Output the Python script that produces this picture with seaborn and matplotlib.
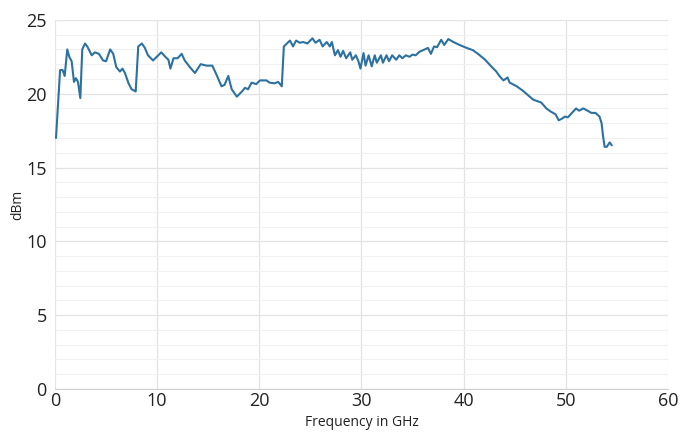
import numpy as np
import pandas as pd
import seaborn as sns
import matplotlib.pyplot as plt
from matplotlib.ticker import MultipleLocator

# values
freq_ghz = [
    0.1, 0.5, 0.75, 0.95, 1.2, 1.4, 1.63, 1.86, 2.05, 2.25, 2.48, 2.67, 2.94, 3.16,
    3.6, 3.9, 4.3, 4.7, 5.0, 5.4, 5.7, 6.0, 6.36, 6.6, 6.85, 7.2, 7.5, 7.9, 8.15,
    8.5, 8.8, 9.1, 9.6, 10.1, 10.4, 10.8, 11.1, 11.3, 11.6, 12.0, 12.4, 12.7, 13.2,
    13.7, 14.26, 14.84, 15.4, 15.8, 16.3, 16.6, 16.96, 17.3, 17.8, 18.3, 18.6, 18.9,
    19.25, 19.7, 20.06, 20.7, 21.0, 21.5, 21.85, 22.2, 22.4, 22.7, 23.0, 23.3, 23.6,
    23.95, 24.3, 24.7, 25.2, 25.5, 25.9, 26.2, 26.6, 26.9, 27.1, 27.4, 27.7, 27.95,
    28.2, 28.5, 28.9, 29.1, 29.45, 29.7, 29.9, 30.2, 30.4, 30.7, 31.0, 31.3, 31.5,
    31.9, 32.1, 32.45, 32.7, 33.0, 33.4, 33.7, 34.0, 34.35, 34.7, 35.0, 35.3, 35.7,
    36.2, 36.5, 36.8, 37.1, 37.4, 37.8, 38.1, 38.5, 39.0, 39.6, 40.3, 40.9, 41.4,
    42.1, 42.7, 43.2, 43.5, 43.9, 44.3, 44.5, 45.2, 45.8, 46.3, 46.8, 47.2, 47.6,
    48.1, 48.5, 49.0, 49.3, 49.6, 49.9, 50.2, 50.6, 51.0, 51.3, 51.7, 52.0, 52.5,
    52.9, 53.3, 53.5, 53.65, 53.8, 54.0, 54.3, 54.5,
]
power_dbm = [
    17.0, 21.6, 21.6, 21.2, 23.0, 22.5, 22.2, 20.8, 21.05, 20.8, 19.7, 23.0, 23.4, 23.2,
    22.6, 22.8, 22.7, 22.25, 22.2, 23.0, 22.7, 21.8, 21.5, 21.7, 21.4, 20.7, 20.3, 20.15, 23.2,
    23.4, 23.1, 22.6, 22.25, 22.6, 22.8, 22.5, 22.3, 21.7, 22.4, 22.4, 22.7, 22.25, 21.8,
    21.4, 22.0, 21.9, 21.9, 21.3, 20.5, 20.6, 21.2, 20.3, 19.8, 20.15, 20.4, 20.3,
    20.75, 20.65, 20.9, 20.9, 20.75, 20.7, 20.8, 20.5, 23.2, 23.4, 23.6, 23.2, 23.6,
    23.45, 23.5, 23.4, 23.75, 23.45, 23.65, 23.2, 23.5, 23.2, 23.5, 22.6, 22.95, 22.5,
    22.9, 22.4, 22.8, 22.3, 22.6, 22.2, 21.7, 22.75, 21.9, 22.6, 21.85, 22.6, 22.1,
    22.6, 22.1, 22.6, 22.2, 22.6, 22.3, 22.6, 22.4, 22.6, 22.5, 22.65, 22.6, 22.85,
    23.0, 23.1, 22.7, 23.2, 23.15, 23.65, 23.3, 23.7, 23.5, 23.3, 23.1, 22.95, 22.7,
    22.3, 21.85, 21.5, 21.2, 20.9, 21.1, 20.75, 20.5, 20.2, 19.9, 19.6, 19.5, 19.4,
    19.0, 18.8, 18.6, 18.2, 18.3, 18.45, 18.4, 18.7, 19.0, 18.85, 19.0, 18.9, 18.7,
    18.7, 18.45, 18.0, 17.1, 16.4, 16.4, 16.7, 16.5,
]

df = pd.DataFrame({"freq": freq_ghz, "dbm": power_dbm})

sns.set_style("white")
plt.rcParams["font.family"] = ["Open Sans", "DejaVu Sans"]

fig, ax = plt.subplots(figsize=(6.83, 4.32), dpi=100)
fig.subplots_adjust(left=0.0805, right=0.978, top=0.954, bottom=0.0995)

sns.lineplot(x="freq", y="dbm", data=df, ax=ax, color="#2c71a0", linewidth=1.5,
             sort=False)

ax.set_xlim(0, 60)
ax.set_ylim(0, 25)
ax.xaxis.set_major_locator(MultipleLocator(10))
ax.yaxis.set_major_locator(MultipleLocator(5))
ax.yaxis.set_minor_locator(MultipleLocator(1))
ax.grid(which="major", color="#e3e3e3", linewidth=0.9)
ax.grid(which="minor", axis="y", color="#f1f1f1", linewidth=0.8)
ax.set_axisbelow(True)

for s in ["top", "right", "left"]:
    ax.spines[s].set_visible(False)
ax.spines["bottom"].set_color("#d0d0d0")

ax.tick_params(axis="both", which="both", length=0, labelsize=13, colors="#222222")
ax.tick_params(axis="x", pad=2)
ax.tick_params(axis="y", pad=6)

ax.set_xlabel("Frequency in GHz", fontsize=10, labelpad=4, color="#222222")
ax.set_ylabel("dBm", fontsize=10, labelpad=1, color="#222222")

plt.savefig("out.png", dpi=100)
plt.close()
